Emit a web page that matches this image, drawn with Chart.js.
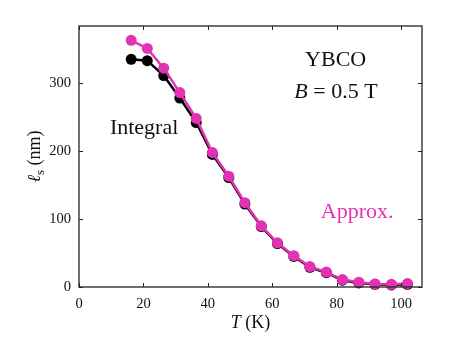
<!DOCTYPE html>
<html>
<head>
<meta charset="utf-8">
<script src="https://cdn.jsdelivr.net/npm/chart.js@4.4.1/dist/chart.umd.min.js"></script>
<style>
  body { margin: 0; background: #fff; }
  canvas { display: block; }
</style>
</head>
<body>
<canvas id="ls-chart" width="449" height="359"></canvas>
<script>
// temperatures (K)
var temps = [16.2, 21.2, 26.3, 31.3, 36.4, 41.4, 46.5, 51.5, 56.6, 61.6, 66.7, 71.7, 76.8, 81.8, 86.9, 91.9, 97.0, 102.0];
// penetration length l_s (nm), approximate formula
var approx = [363, 351, 322, 286, 248, 198, 163, 124, 90, 65, 46, 30, 22, 11, 7, 4.5, 4, 5];
// penetration length l_s (nm), full integral
var integral = [335, 333, 311, 278, 242, 195, 161, 122, 89, 64, 45, 29, 21, 10, 6, 4, 3, 4];
var xTicks = [0, 20, 40, 60, 80, 100];
var yTicks = [0, 100, 200, 300];

var MAGENTA = '#e432b5';
var SERIF = '"Liberation Serif", "DejaVu Serif", serif';

function toPoints(xs, ys) {
    var pts = [];
    for (var i = 0; i < xs.length; i++) {
        pts.push({x: xs[i], y: ys[i]});
    }
    return pts;
}

// frame with inward ticks on all four sides, like matplotlib
var framePlugin = {
    id: 'frame',
    afterDraw: function(chart) {
        var ctx = chart.ctx;
        var a = chart.chartArea;
        var xs = chart.scales.x, ys = chart.scales.y;
        var len = 4;
        ctx.save();
        ctx.strokeStyle = '#222';
        ctx.lineWidth = 1.3;
        ctx.strokeRect(a.left, a.top, a.right - a.left, a.bottom - a.top);
        ctx.lineWidth = 1;
        ctx.beginPath();
        xTicks.forEach(function(v) {
            var px = Math.round(xs.getPixelForValue(v)) + 0.5;
            ctx.moveTo(px, a.bottom); ctx.lineTo(px, a.bottom - len);
            ctx.moveTo(px, a.top); ctx.lineTo(px, a.top + len);
        });
        yTicks.forEach(function(v) {
            var py = Math.round(ys.getPixelForValue(v)) + 0.5;
            ctx.moveTo(a.left, py); ctx.lineTo(a.left + len, py);
            ctx.moveTo(a.right, py); ctx.lineTo(a.right - len, py);
        });
        ctx.stroke();
        ctx.restore();
    }
};

// draws a run of [text, font, dy] pieces, centred on x if asked
function drawPieces(ctx, pieces, x, y, centre) {
    var total = 0;
    pieces.forEach(function(p) { ctx.font = p[1]; total += ctx.measureText(p[0]).width; });
    var cur = centre ? x - total / 2 : x;
    pieces.forEach(function(p) {
        ctx.font = p[1];
        ctx.fillText(p[0], cur, y + (p[2] || 0));
        cur += ctx.measureText(p[0]).width;
    });
}

var labelsPlugin = {
    id: 'labels',
    afterDraw: function(chart) {
        var ctx = chart.ctx;
        var xs = chart.scales.x, ys = chart.scales.y;
        ctx.save();
        ctx.textBaseline = 'alphabetic';
        ctx.textAlign = 'left';
        ctx.fillStyle = '#111';

        // in-plot annotations, placed in data coordinates
        drawPieces(ctx, [['YBCO', '22px ' + SERIF]], xs.getPixelForValue(79.7), ys.getPixelForValue(325), true);
        drawPieces(ctx, [['B', 'italic 22px ' + SERIF], [' = 0.5 T', '22px ' + SERIF]],
            xs.getPixelForValue(79.8), ys.getPixelForValue(278), true);
        drawPieces(ctx, [['Integral', '22px ' + SERIF]], xs.getPixelForValue(9.6), ys.getPixelForValue(225), false);
        ctx.fillStyle = MAGENTA;
        drawPieces(ctx, [['Approx.', '22px ' + SERIF]], xs.getPixelForValue(75.1), ys.getPixelForValue(102), false);

        // axis titles
        ctx.fillStyle = '#111';
        var a = chart.chartArea;
        drawPieces(ctx, [['T', 'italic 18px ' + SERIF], [' (K)', '18px ' + SERIF]], (a.left + a.right) / 2, 328, true);

        ctx.translate(40, (a.top + a.bottom) / 2);
        ctx.rotate(-Math.PI / 2);
        drawPieces(ctx, [['\u2113', 'italic 18px ' + SERIF], ['s', '13px ' + SERIF, 4], [' (nm)', '18px ' + SERIF]], 0, 0, true);
        ctx.restore();
    }
};

var ctx = document.getElementById('ls-chart').getContext('2d');
var lsChart = new Chart(ctx, {
    type: 'line',
    data: {
        datasets: [{
            label: 'Approx.',
            data: toPoints(temps, approx),
            borderColor: MAGENTA,
            backgroundColor: MAGENTA,
            borderWidth: 2.5,
            pointRadius: 5.5,
            pointBorderWidth: 0,
            pointBackgroundColor: MAGENTA,
            tension: 0,
            clip: false
        }, {
            label: 'Integral',
            data: toPoints(temps, integral),
            borderColor: '#000',
            backgroundColor: '#000',
            borderWidth: 2.5,
            pointRadius: 5.5,
            pointBorderWidth: 0,
            pointBackgroundColor: '#000',
            tension: 0,
            clip: false
        }]
    },
    options: {
        responsive: false,
        animation: false,
        events: [],
        layout: {
            autoPadding: false,
            padding: {left: 0, right: 27, top: 26, bottom: 0}
        },
        plugins: {
            legend: {display: false},
            tooltip: {enabled: false}
        },
        scales: {
            x: {
                type: 'linear',
                min: 0,
                max: 106.5,
                grid: {display: false, drawTicks: false, tickLength: 0},
                border: {display: false},
                afterFit: function(scale) { scale.height = 72; },
                afterBuildTicks: function(scale) {
                    scale.ticks = xTicks.map(function(v) { return {value: v}; });
                },
                ticks: {
                    padding: 8,
                    color: '#111',
                    maxRotation: 0,
                    font: {family: SERIF, size: 14.5}
                }
            },
            y: {
                type: 'linear',
                min: 0,
                max: 384,
                grid: {display: false, drawTicks: false, tickLength: 0},
                border: {display: false},
                afterFit: function(scale) { scale.width = 79; },
                afterBuildTicks: function(scale) {
                    scale.ticks = yTicks.map(function(v) { return {value: v}; });
                },
                ticks: {
                    padding: 8,
                    color: '#111',
                    font: {family: SERIF, size: 14.5}
                }
            }
        }
    },
    plugins: [framePlugin, labelsPlugin]
});
</script>
</body>
</html>
